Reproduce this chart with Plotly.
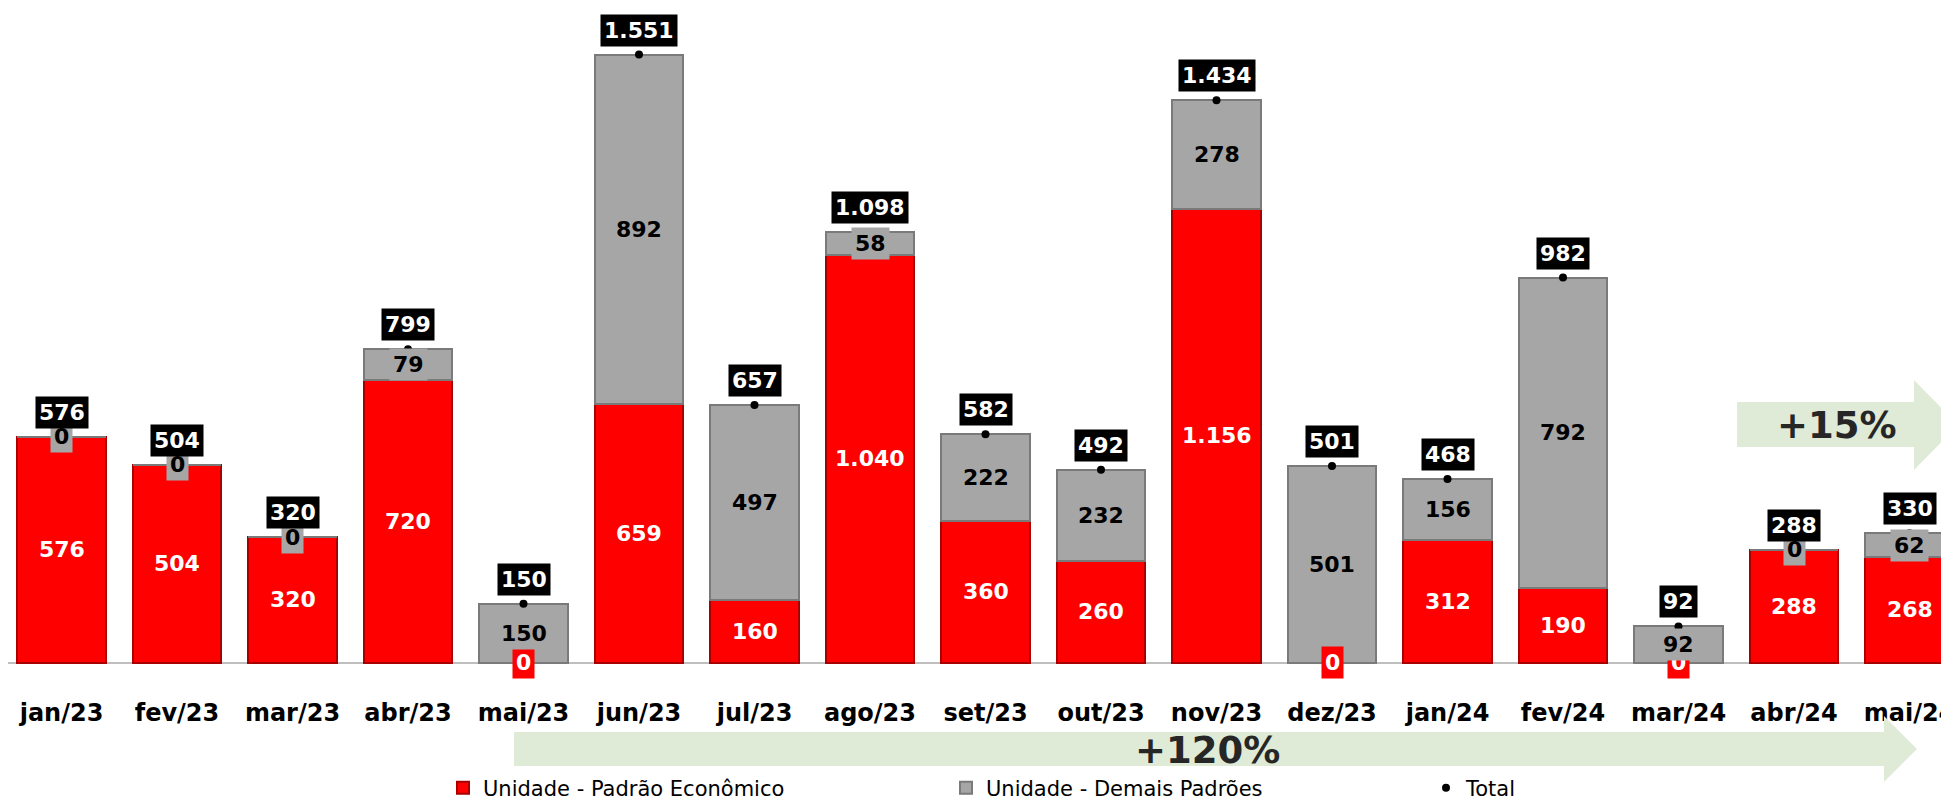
import plotly.graph_objects as go

# ---------------- data ----------------
months = ["jan/23", "fev/23", "mar/23", "abr/23", "mai/23", "jun/23", "jul/23", "ago/23",
          "set/23", "out/23", "nov/23", "dez/23", "jan/24", "fev/24", "mar/24", "abr/24", "mai/24"]
economico = [576, 504, 320, 720, 0, 659, 160, 1040, 360, 260, 1156, 0, 312, 190, 0, 288, 268]
demais = [0, 0, 0, 79, 150, 892, 497, 58, 222, 232, 278, 501, 156, 792, 92, 0, 62]
total = [576, 504, 320, 799, 150, 1551, 657, 1098, 582, 492, 1434, 501, 468, 982, 92, 288, 330]

name_eco = "Unidade - Padrão Econômico"
name_dem = "Unidade - Demais Padrões"
name_tot = "Total"
growth_long = "+120%"
growth_short = "+15%"

# ---------------- style ----------------
OFF = 8                      # page body margin
W, H = 1949 - OFF, 802 - OFF
PLOT_H = 688
RED = "#ff0000"
GRAY = "#a6a6a6"
GREEN = "#dfebd6"
FONT = "DejaVu Sans"


def fmt(v):
    return f"{v:,}".replace(",", ".")


def px(x):  # page pixel -> paper x
    return (x - OFF) / W


def py(y):  # page pixel -> paper y
    return (PLOT_H - (y - OFF)) / PLOT_H


fig = go.Figure()
fig.add_trace(go.Bar(x=months, y=economico, name=name_eco, legend="legend",
                     marker=dict(color=RED, line=dict(color="#a80000", width=2))))
fig.add_trace(go.Bar(x=months, y=demais, name=name_dem, legend="legend2",
                     marker=dict(color=GRAY, line=dict(color="#7a7a7a", width=2))))
fig.add_trace(go.Scatter(x=months, y=total, name=name_tot, mode="markers", legend="legend3",
                         marker=dict(color="black", size=8)))

ann = []
num_font = dict(family=FONT, size=22, weight="bold")
for m, r in zip(months, economico):
    ann.append(dict(x=m, y=r / 2 if r > 0 else 0, text=fmt(r), showarrow=False,
                    font=dict(num_font, color="white"), bgcolor=RED, borderpad=3,
                    xanchor="center", yanchor="middle"))
for m, r, g in zip(months, economico, demais):
    ann.append(dict(x=m, y=r + g / 2, text=fmt(g), showarrow=False,
                    font=dict(num_font, color="black"), bgcolor=GRAY, borderpad=3,
                    xanchor="center", yanchor="middle"))
for m, t in zip(months, total):
    ann.append(dict(x=m, y=t, text=fmt(t), showarrow=False, yshift=8,
                    font=dict(num_font, color="white"), bgcolor="black", borderpad=3,
                    xanchor="center", yanchor="bottom"))

# growth arrows (decorations), page-pixel outlines
big = [(514, 732), (1884, 732), (1884, 716), (1917, 749), (1884, 782), (1884, 766), (514, 766)]
small = [(1737, 402), (1914, 402), (1914, 380), (1958, 425), (1914, 470), (1914, 447), (1737, 447)]
shapes = []
for pts in (big, small):
    path = "M " + " L ".join(f"{px(a):.5f},{py(b):.5f}" for a, b in pts) + " Z"
    shapes.append(dict(type="path", xref="paper", yref="paper", path=path,
                       fillcolor=GREEN, line=dict(width=0), layer="above"))
ann.append(dict(xref="paper", yref="paper", x=px(1207), y=py(750), text=growth_long,
                showarrow=False, font=dict(family=FONT, size=37, weight="bold", color="#262626"),
                xanchor="center", yanchor="middle"))
ann.append(dict(xref="paper", yref="paper", x=px(1837), y=py(425), text=growth_short,
                showarrow=False, font=dict(family=FONT, size=37, weight="bold", color="#262626"),
                xanchor="center", yanchor="middle"))

leg_common = dict(orientation="h", yanchor="middle", xanchor="left", y=py(788),
                  bgcolor="rgba(0,0,0,0)", font=dict(family=FONT, size=21, color="black"))

# axis ranges derived from page geometry: bar centres at 61.5 + 115.5*i, baseline at y=662.5
unit = 0.392
x0 = -(61.5 - OFF) / 115.5
x1 = x0 + W / 115.5
y_top = (662.5 - OFF) / unit
y_bot = -(PLOT_H + OFF - 662.5) / unit

fig.update_layout(
    width=W, height=H,
    margin=dict(l=0, r=0, t=0, b=H - PLOT_H, pad=0, autoexpand=False),
    paper_bgcolor="white", plot_bgcolor="white",
    barmode="stack", bargap=0.23,
    separators=",.",
    annotations=ann, shapes=shapes,
    legend=dict(leg_common, x=px(483 - 40)),
    legend2=dict(leg_common, x=px(986 - 40)),
    legend3=dict(leg_common, x=px(1466 - 40)),
    xaxis=dict(type="category", range=[x0, x1], showgrid=False, showline=False, automargin=False,
               ticks="", tickfont=dict(family=FONT, size=24, weight="bold", color="black")),
    yaxis=dict(range=[y_bot, y_top], showgrid=False, showticklabels=False, showline=False,
               automargin=False, zeroline=True, zerolinecolor="#bfbfbf", zerolinewidth=2),
    showlegend=True,
)

fig.write_html("out.html")
